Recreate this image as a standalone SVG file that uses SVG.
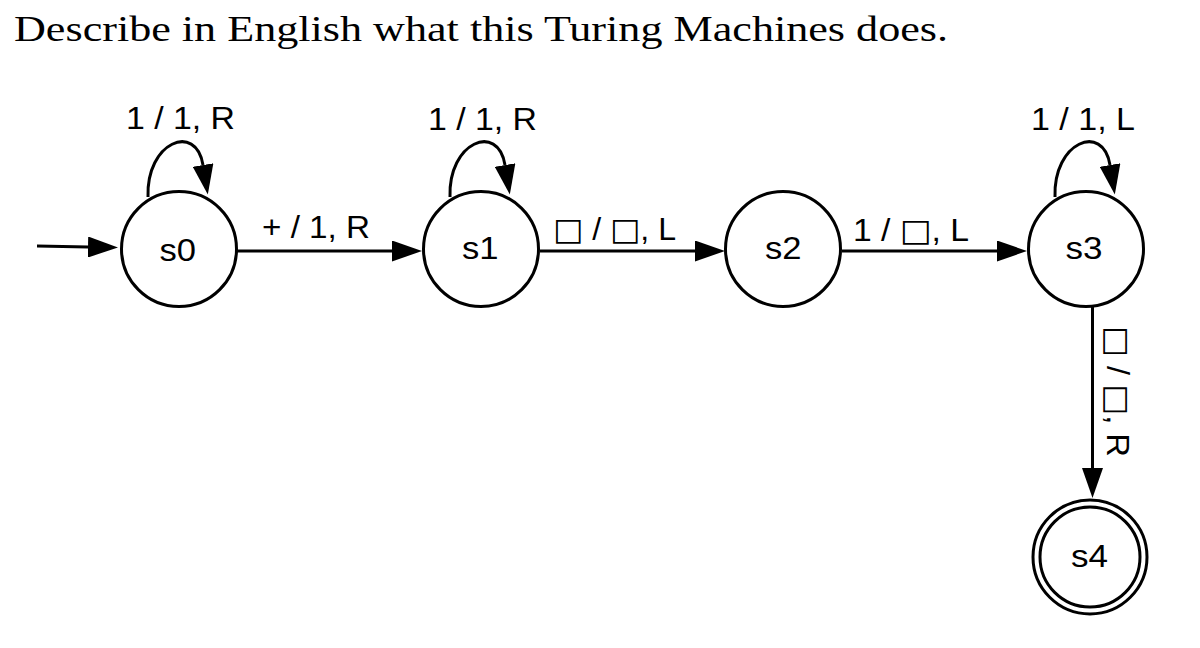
<svg xmlns="http://www.w3.org/2000/svg" width="1200" height="648" viewBox="0 0 1200 648">
<style>
.node{fill:#fff;stroke:#000;stroke-width:3}
.edge{fill:none;stroke:#000;stroke-width:3}
.lbl{font-family:"Liberation Sans",Arial,sans-serif;font-size:31px;fill:#000}
.sq{font-family:"DejaVu Sans",sans-serif;font-size:31px}
.nl{font-family:"Liberation Sans",Arial,sans-serif;font-size:32px;fill:#000}
.title{font-family:"Liberation Serif","Times New Roman",serif;font-size:35px;fill:#000}
</style>
<defs>
<marker id="ah" markerUnits="userSpaceOnUse" viewBox="0 0 30 21" refX="0" refY="10.5" markerWidth="30" markerHeight="21" orient="auto">
<path d="M0,0 L30,10.5 L0,21 z" fill="#000"/>
</marker>
</defs>
<rect width="1200" height="648" fill="#fff"/>
<text class="title" x="14" y="41" textLength="934" lengthAdjust="spacingAndGlyphs">Describe in English what this Turing Machines does.</text>
<g id="connectors">
<path class="edge" d="M37,246 L88,247" marker-end="url(#ah)"/>
<path class="edge" d="M148,197 C146,142 196,122 203,165" marker-end="url(#ah)"/>
<path class="edge" d="M450,197 C448,142 498,122 505,165" marker-end="url(#ah)"/>
<path class="edge" d="M1055,197 C1053,142 1103,122 1110,165" marker-end="url(#ah)"/>
<path class="edge" d="M237,251 L392,251" marker-end="url(#ah)"/>
<path class="edge" d="M540,251 L695,251" marker-end="url(#ah)"/>
<path class="edge" d="M842,251 L997,251" marker-end="url(#ah)"/>
<path class="edge" d="M1092.5,306 L1092.5,468" marker-end="url(#ah)"/>
<text class="lbl" x="126" y="129" textLength="109" lengthAdjust="spacingAndGlyphs">1 / 1, R</text>
<text class="lbl" x="428" y="130" textLength="109" lengthAdjust="spacingAndGlyphs">1 / 1, R</text>
<text class="lbl" x="1031" y="130" textLength="104" lengthAdjust="spacingAndGlyphs">1 / 1, L</text>
<text class="lbl" x="262" y="238" textLength="108" lengthAdjust="spacingAndGlyphs">+ / 1, R</text>
<text class="lbl" x="553" y="240" textLength="123" lengthAdjust="spacingAndGlyphs"><tspan class="sq">□</tspan> / <tspan class="sq">□</tspan>, L</text>
<text class="lbl" x="853" y="241" textLength="116" lengthAdjust="spacingAndGlyphs">1 / <tspan class="sq">□</tspan>, L</text>
<text class="lbl" transform="translate(1107,326) rotate(90)" x="0" y="0" textLength="131" lengthAdjust="spacingAndGlyphs"><tspan class="sq">□</tspan> / <tspan class="sq">□</tspan>, R</text>
</g>
<g id="s0">
<circle class="node" cx="179" cy="249" r="57.5"/>
<text class="nl" x="159.5" y="261" textLength="36.5" lengthAdjust="spacingAndGlyphs">s0</text>
</g>
<g id="s1">
<circle class="node" cx="481" cy="249" r="57.5"/>
<text class="nl" x="462" y="259" textLength="36.5" lengthAdjust="spacingAndGlyphs">s1</text>
</g>
<g id="s2">
<circle class="node" cx="783" cy="249" r="57.5"/>
<text class="nl" x="765" y="259" textLength="36.5" lengthAdjust="spacingAndGlyphs">s2</text>
</g>
<g id="s3">
<circle class="node" cx="1086" cy="249" r="57.5"/>
<text class="nl" x="1065.5" y="259" textLength="37" lengthAdjust="spacingAndGlyphs">s3</text>
</g>
<g id="s4">
<circle class="node" cx="1090" cy="557" r="57"/>
<circle class="node" cx="1090" cy="557" r="50"/>
<text class="nl" x="1071" y="567" textLength="37" lengthAdjust="spacingAndGlyphs">s4</text>
</g>
</svg>
